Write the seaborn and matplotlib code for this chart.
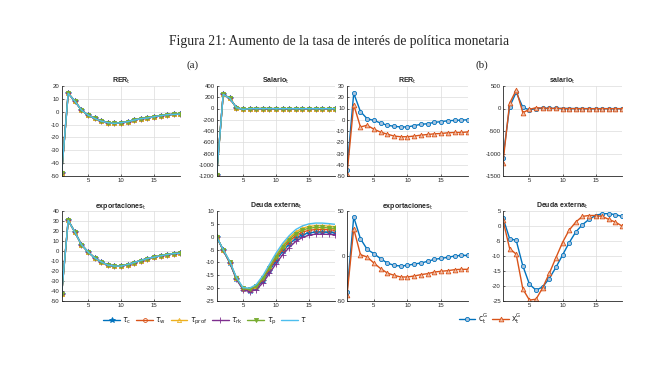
import numpy as np
import matplotlib
matplotlib.use("Agg")
import matplotlib.pyplot as plt
import seaborn as sns

# periods
t = list(range(1, 20))

# (a) shocks on tax instruments: series overlap except for external debt
rer_a = [-48, 14.3, 8.3, 1.3, -2.6, -5.2, -7.3, -8.5, -9.1, -8.5, -7.8, -6.5, -5.4, -4.9, -3.9, -3.1, -2.3, -2.1, -1.8]
salario_a = [-1183, 252, 181, 15, -15, -3, -2, -2, -2, -3, -3, -3, -3, -3, -3, -3, -3, -3, -3]
export_a = [-43.4, 30.7, 19, 6.4, -0.9, -6.8, -10.8, -14.1, -15.1, -15.1, -13.5, -11.5, -9.5, -7.5, -6.2, -4.8, -3.5, -2.5, -2.2]

deuda_tau = [0, -5.0, -9.6, -15.8, -19.8, -20.0, -18.6, -15.2, -10.8, -6.4, -2.6, 0.4, 2.8, 4.2, 5.0, 5.3, 5.3, 5.1, 4.8]
deuda_prof = [0, -5.1, -9.8, -16.0, -20.0, -20.3, -19.0, -15.8, -11.5, -7.2, -3.4, -0.4, 1.9, 3.3, 4.0, 4.3, 4.3, 4.1, 3.9]
deuda_p = [0, -5.1, -9.9, -16.1, -20.1, -20.5, -19.3, -16.2, -12.0, -7.8, -4.0, -1.1, 1.2, 2.6, 3.3, 3.6, 3.6, 3.4, 3.2]
deuda_w = [0, -5.2, -10.0, -16.2, -20.2, -20.7, -19.6, -16.6, -12.6, -8.5, -4.8, -1.9, 0.4, 1.8, 2.5, 2.8, 2.8, 2.7, 2.5]
deuda_c = [0, -5.2, -10.1, -16.4, -20.4, -21.0, -20.0, -17.2, -13.3, -9.3, -5.7, -2.9, -0.6, 0.8, 1.5, 1.8, 1.8, 1.7, 1.5]
deuda_rk = [0, -5.3, -10.2, -16.5, -20.6, -21.4, -20.6, -18.0, -14.3, -10.5, -7.0, -4.2, -1.8, -0.3, 0.6, 1.0, 1.0, 0.9, 0.8]

# (b) government consumption vs government exports
rer_c = [-44.8, 23.6, 7.3, 0.9, -0.6, -2.9, -4.9, -5.8, -6.4, -6.4, -5.2, -4.1, -3.5, -2.3, -1.7, -0.9, -0.6, -0.3, 0]
rer_x = [-48.6, 13.4, -6.4, -4.9, -8.4, -11, -12.8, -14.5, -15.1, -15.1, -14.5, -13.7, -13.1, -12.5, -12.2, -11.6, -11.3, -11.3, -10.8]
sal_c = [-1092, 40, 360, 26, -33, 0, 5, 3, 2, 0, 0, -2, -2, -3, -3, -3, -3, -3, -3]
sal_x = [-1200, 115, 410, -93, -19, 18, 8, 5, 3, 0, -2, -3, -3, -4, -4, -4, -4, -4, -4]
exp_c = [-40, 43.3, 19.2, 7.4, 2.6, -3, -7.8, -10.4, -11.1, -10.4, -8.9, -7.8, -5.9, -3.7, -2.6, -1.5, 0, 0.7, 0.7]
exp_x = [-43.7, 30.3, 1.5, -1.1, -7.8, -14, -18.9, -21.5, -23.3, -23.3, -22.2, -20.7, -19.6, -17.8, -17, -16.3, -15.2, -14.8, -14.8]
deu_c = [2.7, -4.2, -4.8, -13.3, -19.4, -21.4, -20.3, -17.5, -13.8, -9.7, -5.6, -2.0, 0.4, 2.2, 3.5, 4.1, 4.1, 3.8, 3.2]
deu_x = [1.9, -7.5, -9.4, -21, -24.7, -24.4, -20.6, -15.8, -10.6, -5.5, -1.4, 1.3, 3.2, 3.5, 3.5, 3.2, 2.2, 1.3, 0]

labels_a = [r'$\tau_{\rm c}$', r'$\tau_{\rm w}$', r'$\tau_{\rm prof}$', r'$\tau_{\rm rk}$', r'$\tau_{\rm p}$', r'$\tau$']
labels_b = [r'$\mathrm{c}_\mathrm{t}^\mathrm{G}$', r'$\mathrm{x}_\mathrm{t}^\mathrm{G}$']

# matlab default colour order
blue, orange, yellow, purple, green, cyan = '#0072BD', '#D95319', '#EDB120', '#7E2F8E', '#77AC30', '#4DBEEE'
style_a = [
    dict(color=blue, mec=blue, marker='*', markersize=3.8),
    dict(color=orange, mec=orange, marker='o', markersize=2.8, mfc='none'),
    dict(color=yellow, mec=yellow, marker='^', markersize=3.0, mfc='none'),
    dict(color=purple, mec=purple, marker='+', markersize=3.8),
    dict(color=green, mec=green, marker='v', markersize=3.0),
    dict(color=cyan, marker=None),
]
style_b = [
    dict(color=blue, mec=blue, marker='o', markersize=3.0, mfc='#a9c4de'),
    dict(color=orange, mec=orange, marker='^', markersize=3.4, mfc='#f0bea6'),
]

sns.set_style('whitegrid')
plt.rcParams['font.family'] = ['Liberation Sans', 'DejaVu Sans']
plt.rcParams['axes.unicode_minus'] = False
plt.rcParams['mathtext.fontset'] = 'dejavusans'

fig = plt.figure(figsize=(6.54, 3.70), dpi=100)

W, H = 654.0, 370.0
cols = [(61.6, 180.4), (216.6, 335.4), (347, 468), (503, 622)]
rows = [(86, 176), (211, 301)]


def make_ax(c, r):
    x0, x1 = cols[c]
    y0, y1 = rows[r]
    return fig.add_axes([x0 / W, 1 - y1 / H, (x1 - x0) / W, (y1 - y0) / H])


def draw(ax, series, styles, labels, title, ylim, yticks):
    for y, st, lab in zip(series, styles, labels):
        sns.lineplot(x=t, y=y, ax=ax, linewidth=1.0, linestyle='-', errorbar=None,
                     mew=0.6, label=lab, legend=False, **st)
    ax.set_xlim(1, 19)
    ax.set_ylim(*ylim)
    ax.set_xticks([5, 10, 15])
    ax.set_yticks(yticks)
    ax.set_xlabel('')
    ax.set_ylabel('')
    ax.set_title(title, fontsize=5, fontweight='bold', pad=2)
    ax.grid(True, color='#dcdcdc', linewidth=0.5)
    for s in ['top', 'right']:
        ax.spines[s].set_visible(False)
    for s in ['left', 'bottom']:
        ax.spines[s].set_color('#262626')
        ax.spines[s].set_linewidth(0.6)
    ax.tick_params(labelsize=4.3, length=1.5, width=0.5, direction='in', pad=1.5,
                   colors='#262626', left=True, bottom=True)


ax1 = make_ax(0, 0)
draw(ax1, [rer_a] * 6, style_a, labels_a, r'RER$_\mathrm{t}$', (-50, 20), range(-50, 21, 10))
ax2 = make_ax(1, 0)
draw(ax2, [salario_a] * 6, style_a, labels_a, r'Salario$_\mathrm{t}$', (-1200, 400), range(-1200, 401, 200))
ax5 = make_ax(0, 1)
draw(ax5, [export_a] * 6, style_a, labels_a, r'exportaciones$_\mathrm{t}$', (-50, 40), range(-50, 41, 10))
ax6 = make_ax(1, 1)
draw(ax6, [deuda_c, deuda_w, deuda_prof, deuda_rk, deuda_p, deuda_tau], style_a, labels_a,
     r'Deuda externa$_\mathrm{t}$', (-25, 10), range(-25, 11, 5))

ax3 = make_ax(2, 0)
draw(ax3, [rer_c, rer_x], style_b, labels_b, r'RER$_\mathrm{t}$', (-50, 30), range(-50, 31, 10))
ax4 = make_ax(3, 0)
draw(ax4, [sal_c, sal_x], style_b, labels_b, r'salario$_\mathrm{t}$', (-1500, 500), range(-1500, 501, 500))
ax7 = make_ax(2, 1)
draw(ax7, [exp_c, exp_x], style_b, labels_b, r'exportaciones$_\mathrm{t}$', (-50, 50), [-50, 0, 50])
ax8 = make_ax(3, 1)
draw(ax8, [deu_c, deu_x], style_b, labels_b, r'Deuda externa$_\mathrm{t}$', (-25, 5), range(-25, 6, 5))

h, l = ax6.get_legend_handles_labels()
fig.legend(h, l, loc='center', bbox_to_anchor=(205 / W, 1 - 321 / H), ncol=6, frameon=False,
           fontsize=5.5, handlelength=2.2, columnspacing=0.6, handletextpad=0.3)
h, l = ax8.get_legend_handles_labels()
fig.legend(h, l, loc='center', bbox_to_anchor=(490 / W, 1 - 319 / H), ncol=2, frameon=False,
           fontsize=5.5, handlelength=2.2, columnspacing=0.6, handletextpad=0.3)

fig.text(339 / W, 1 - 41 / H, 'Figura 21: Aumento de la tasa de interés de política monetaria',
         ha='center', va='center', fontsize=9.8, family='Liberation Serif')
fig.text(193 / W, 1 - 65 / H, '(a)', ha='center', va='center', fontsize=8, family='Liberation Serif')
fig.text(482 / W, 1 - 65 / H, '(b)', ha='center', va='center', fontsize=8, family='Liberation Serif')

fig.savefig('out.png', dpi=100)
